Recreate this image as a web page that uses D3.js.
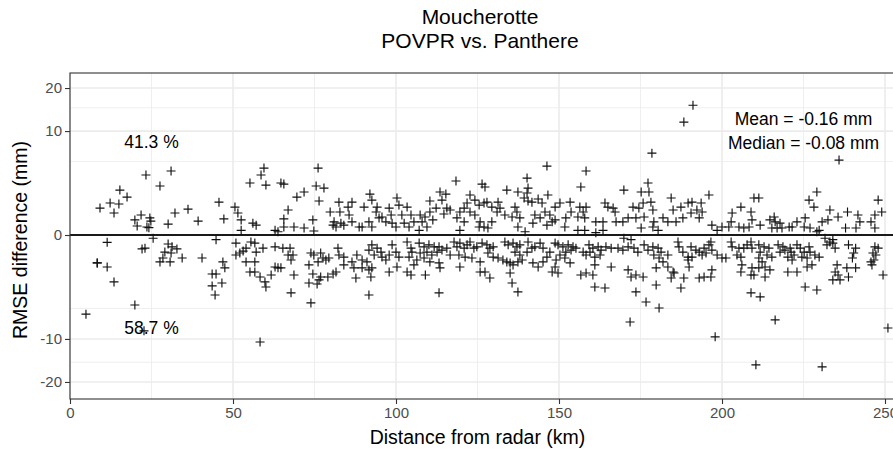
<!DOCTYPE html>
<html>
<head>
<meta charset="utf-8">
<script src="https://cdn.jsdelivr.net/npm/d3@7/dist/d3.min.js"></script>
<style>
  html, body { margin: 0; padding: 0; background: #fff; }
  svg { display: block; font-family: "Liberation Sans", Arial, sans-serif; }
</style>
</head>
<body>
<svg id="chart" width="893" height="450"></svg>
<script>
// Station / comparison titles
const titleLines = ["Moucherotte", "POVPR vs. Panthere"];
const xTitle = "Distance from radar (km)";
const yTitle = "RMSE difference (mm)";

// Axis breaks
const xMajor = [0, 50, 100, 150, 200, 250];
const xMinor = [25, 75, 125, 175, 225];
const yMajor = [20, 10, 0, -10, -20];
const yMinor = [15, 5, -5, -15];

// Annotations
const shareAbove = "41.3 %";
const shareBelow = "58.7 %";
const statsLines = ["Mean = -0.16 mm", "Median = -0.08 mm"];

// Gauge distance from radar (km)
const distanceKm = [
4.9,9.2,11.4,8.3,8.4,11.4,13.5,12.3,13.5,15.3,15.0,17.5,19.9,19.9,20.6,21.8,22.1,23.3,23.6,22.7,
31.0,27.6,24.5,24.8,24.2,25.5,32.2,36.2,39.3,30.1,30.1,31.3,32.8,29.1,31.0,28.5,30.7,27.6,34.4,40.5,43.6,43.6,23.0,
59.5,58.6,55.2,60.1,64.7,45.7,47.2,50.6,51.5,52.5,52.5,56.1,57.1,62.9,63.8,44.8,50.9,55.5,56.7,54.0,53.1,50.9,52.1,54.0,56.7,59.2,57.1,55.2,56.7,58.3,59.8,60.1,61.7,62.9,63.8,46.9,47.5,44.8,46.6,44.5,58.3,62.9,
76.1,65.6,75.5,77.9,69.6,71.8,76.4,66.9,65.6,65.6,68.7,71.8,74.5,74.8,82.5,79.8,82.8,85.3,80.7,81.6,83.1,84.0,81.0,65.3,66.9,68.4,67.5,67.8,64.7,68.7,67.8,73.9,74.8,76.9,77.6,76.1,78.5,73.3,74.5,73.3,76.4,75.8,76.9,79.1,80.7,81.6,79.4,82.2,82.5,84.0,84.0,73.9,
92.0,92.6,90.2,94.2,93.9,86.5,85.6,86.5,100.3,100.9,103.4,97.9,98.5,101.8,104.6,105.5,95.7,96.9,94.8,91.7,92.6,89.6,88.7,98.8,100.0,104.0,102.5,92.6,94.2,95.4,91.7,93.3,95.7,96.9,98.8,100.0,97.9,100.9,103.4,104.6,104.9,104.0,105.5,88.0,89.6,91.1,87.1,89.6,91.7,92.6,87.7,92.3,91.7,97.9,100.3,103.4,104.6,86.5,
118.4,126.4,113.5,115.3,110.4,114.1,112.3,115.6,114.7,116.6,107.4,108.9,110.4,111.3,108.0,109.5,107.1,122.7,124.2,121.8,120.9,125.5,127.0,119.6,122.7,118.7,120.9,124.2,125.8,125.5,127.0,119.6,107.1,108.6,110.1,111.7,113.2,109.5,111.0,112.6,114.1,115.6,116.6,108.6,110.4,113.2,113.5,109.0,113.2,117.8,118.7,119.6,120.9,121.8,122.7,123.9,124.8,126.4,119.3,121.2,123.3,119.6,125.8,125.8,106.4,107.4,
146.3,140.2,140.5,134.0,137.4,140.2,139.3,140.5,141.7,143.6,146.6,144.8,127.3,127.9,129.4,131.3,131.9,131.0,133.4,136.5,137.1,135.6,129.4,128.2,138.0,137.4,139.6,142.6,144.2,145.7,147.2,147.9,142.0,146.3,127.9,128.8,129.8,128.2,129.8,131.3,132.8,134.0,135.0,135.9,127.3,128.8,135.0,135.6,137.4,134.4,135.9,137.1,138.0,136.5,138.0,138.7,137.4,140.5,141.7,142.6,144.2,145.1,142.0,143.6,145.1,146.3,147.2,147.9,140.2,133.4,
158.3,156.7,153.4,150.3,148.8,153.7,156.4,157.4,158.3,155.8,157.9,164.1,165.0,166.6,167.2,167.5,161.3,163.5,152.1,148.8,151.8,155.8,157.9,163.5,161.3,148.8,149.7,151.2,152.8,154.3,155.2,152.1,153.7,150.3,149.1,153.4,149.7,157.4,158.3,159.5,160.4,162.0,162.9,164.4,166.0,168.1,161.0,162.6,161.0,166.0,156.7,158.3,160.4,161.0,164.1,159.2,148.8,151.8,
188.3,178.5,177.3,177.6,175.2,169.9,175.8,178.2,178.8,174.5,172.7,171.2,173.6,176.1,169.6,179.1,184.4,187.4,185.0,181.9,183.4,185.9,188.0,189.6,175.2,178.8,180.4,169.9,172.1,171.2,173.0,169.6,174.2,176.1,177.3,178.8,180.4,181.3,179.1,180.7,181.9,183.4,186.5,186.8,188.0,189.6,189.6,171.2,172.1,173.6,175.8,179.8,183.4,185.0,184.4,179.8,173.6,176.7,180.7,171.8,188.3,187.4,185.3,
191.1,196.0,190.8,193.6,192.3,193.9,193.0,190.5,209.8,205.8,208.9,203.1,202.8,200.0,198.5,202.1,196.9,205.2,206.7,208.3,209.2,190.5,192.0,193.0,194.5,193.9,190.8,195.1,196.0,196.6,196.9,198.5,200.0,201.2,189.9,193.0,194.5,196.6,196.9,202.8,203.1,205.2,206.7,204.6,205.8,207.7,208.9,209.2,205.8,206.1,208.9,209.8,208.9,197.9,210.4,209.2,
229.1,226.7,228.2,211.3,216.0,214.7,216.3,211.7,215.3,216.9,218.4,220.6,221.5,223.0,225.5,225.2,227.0,229.8,230.7,229.1,217.8,211.3,212.9,214.4,211.7,213.8,215.3,211.3,212.3,213.2,217.2,218.7,219.3,220.9,221.2,217.8,220.2,222.1,223.0,224.0,225.2,226.7,227.0,228.5,229.8,224.5,226.1,227.6,221.5,211.3,214.7,213.2,220.2,223.0,226.1,225.5,229.1,211.7,216.3,230.7,
235.9,247.9,249.0,246.9,233.1,235.6,238.5,237.9,232.5,241.1,242.3,241.7,245.7,246.9,231.6,233.1,234.0,232.2,234.7,234.0,238.8,241.0,240.4,240.0,246.9,247.9,246.3,247.2,246.6,245.7,246.0,249.4,235.3,234.7,235.6,234.0,236.2,238.3,238.8,241.0,250.9
];

// POVPR minus Panthere RMSE (mm), same order as distanceKm
const rmseDiff = [
-5.8,0.67,-0.05,-0.72,-0.72,-0.95,-2.04,0.95,0.45,1.87,0.89,1.33,-4.53,0.21,0.075,0.37,-0.18,3.33,0.06,-8.5,
3.79,2.22,0.27,0.18,0.05,-0.01,0.45,0.62,0.18,0.11,-0.075,-0.13,-0.18,-0.27,-0.30,-0.49,-0.67,-0.67,-0.49,-0.49,-1.41,-2.40,-0.16,
4.15,3.33,2.5,2.31,2.5,1.0,0.24,0.72,0.45,0.21,0.02,0.13,0.09,0.02,0.01,-0.02,-0.06,-0.045,-0.06,-0.16,-0.24,-0.37,-0.30,-0.67,-0.67,-0.16,-0.27,-1.27,-1.27,-1.63,-2.04,-2.5,-1.48,-0.95,-1.0,-0.67,-1.0,-1.41,-2.13,-3.33,-10.6,-0.13,
4.15,2.4,2.22,2.04,1.33,1.71,1.07,0.58,0.24,0.06,0.06,0.045,0.21,0.015,1.0,0.49,0.49,0.72,0.09,0.06,0.13,0.09,0.16,-0.16,-0.37,-0.37,-0.16,-0.58,-1.0,-1.48,-3.1,-0.30,-0.37,-0.30,-0.49,-0.67,-0.58,-0.83,-1.41,-2.13,-1.87,-2.22,-1.63,-1.63,-1.41,-1.27,-0.49,-0.16,-0.37,-0.45,-0.83,-4.27,
1.55,1.13,0.72,0.72,0.49,1.0,0.37,0.16,1.27,0.83,0.72,0.67,0.37,0.37,0.37,0.16,0.30,0.16,0.27,0.16,0.06,0.06,0.06,0.13,0.06,0.06,0.13,-0.09,-0.16,-0.27,-0.21,-0.37,-0.45,-0.58,-0.09,-0.27,-0.37,-0.45,-0.045,-0.16,-0.27,-0.45,-0.83,-0.37,-0.58,-0.67,-1.0,-1.0,-1.13,-1.0,-1.71,-1.63,-3.33,-1.27,-0.95,-1.27,-1.48,-0.67,
2.7,2.4,1.71,1.55,1.07,1.13,0.67,0.67,0.41,0.58,0.37,0.30,0.49,0.21,0.16,0.06,0.02,1.48,1.13,0.95,0.67,0.83,0.95,0.49,0.49,0.27,0.16,0.37,0.16,0.06,0.06,0.02,-0.06,-0.13,-0.09,-0.13,-0.13,-0.27,-0.37,-0.27,-0.21,-0.16,-0.37,-0.49,-0.67,-0.72,-1.0,-1.48,-3.1,-0.045,-0.13,-0.06,-0.16,-0.09,-0.045,-0.16,-0.13,-0.06,-0.37,-0.45,-0.49,-0.95,-0.67,-1.27,-0.58,-0.30,
4.4,3.0,2.04,1.87,1.71,1.63,1.27,1.07,1.0,1.2,1.48,0.95,2.13,1.0,0.72,1.0,0.67,0.49,0.37,0.72,0.49,0.30,0.16,0.045,0.27,0.06,0.01,0.37,0.27,0.49,0.37,0.16,0.13,0.09,-0.09,-0.16,-0.13,-0.30,-0.45,-0.49,-0.58,-0.67,-0.72,-0.83,-1.27,-1.71,-1.34,-2.13,-3.0,-0.09,-0.06,-0.13,-0.09,-0.27,-0.37,-0.58,-0.67,-0.045,-0.16,-0.13,-0.06,-0.16,-0.72,-0.95,-0.67,-0.45,-0.27,-1.27,-0.27,-0.045,
3.79,2.13,1.0,0.95,0.72,0.49,0.72,0.49,0.72,0.30,0.27,0.95,0.72,0.67,0.49,0.16,0.16,0.16,0.27,0.21,0.06,0.02,0.02,0.02,0.005,-0.06,-0.09,-0.13,-0.09,-0.13,-0.16,-0.27,-0.21,-0.37,-0.58,-0.72,-1.34,-0.27,-0.37,-0.27,-0.16,-0.13,-0.21,-0.13,-0.16,-0.16,-0.45,-0.37,-0.83,-0.95,-1.48,-1.34,-1.48,-2.5,-2.6,-0.09,-0.95,-0.49,
11.8,6.2,2.5,1.71,1.71,1.87,0.95,1.0,0.58,0.67,0.72,0.27,0.27,0.30,0.16,0.16,1.27,0.72,0.58,0.27,0.16,0.16,0.27,0.95,0.045,0.06,0.02,-0.01,-0.02,-0.13,-0.16,-0.21,-0.27,-0.09,-0.21,-0.13,-0.16,-0.27,-0.37,-0.49,-0.67,-0.37,-0.045,-0.13,-0.27,-0.45,-0.58,-1.13,-1.63,-1.48,-1.63,-1.0,-0.95,-1.27,-1.71,-2.31,-3.0,-4.15,-4.93,-7.0,-1.71,-2.6,-1.34,
15.6,1.48,1.0,0.95,0.58,0.49,0.27,0.45,1.27,0.72,0.49,0.45,0.16,0.06,0.02,0.06,0.09,0.06,0.045,0.06,0.21,-0.13,-0.21,-0.27,-0.16,-0.37,-0.45,-0.30,-0.09,-0.045,-0.21,-0.37,-0.49,-0.49,-0.95,-1.71,-1.63,-1.63,-1.13,-0.045,-0.13,-0.16,-0.16,-0.37,-0.45,-0.09,-0.045,-0.16,-1.27,-0.83,-1.48,-1.48,-3.1,-9.6,-15.6,-1.0,
1.71,1.13,0.72,1.27,0.30,0.21,0.16,0.09,0.045,0.045,0.045,0.06,0.06,0.16,0.27,0.06,0.045,0.02,0.16,0.01,0.13,-0.09,-0.13,-0.16,-0.27,-0.37,-0.45,-0.49,-0.67,-0.95,-0.09,-0.13,-0.21,-0.16,-0.27,-0.27,-0.45,-0.37,-0.09,-0.16,-0.27,-0.13,-0.27,-0.37,-0.45,-0.45,-0.49,-0.83,-0.58,-1.0,-1.13,-1.63,-1.27,-1.27,-0.95,-2.5,-2.8,-3.55,-6.68,-16.1,
5.2,1.13,0.49,0.37,0.58,0.30,0.49,0.045,0.21,0.045,0.16,0.37,0.16,0.045,-0.01,-0.045,-0.06,-0.09,-0.16,-0.02,-0.09,-0.16,-0.30,-0.49,-0.13,-0.16,-0.30,-0.37,-0.58,-0.67,-0.83,-1.48,-0.83,-1.27,-1.48,-1.87,-1.87,-1.0,-1.63,-1.0,-8.0
];

const panel = { left: 70, top: 73, bottom: 399, right: 905 };

const svg = d3.select("#chart");

// x: linear distance, no expansion at the origin
const x = d3.scaleLinear().domain([0, 250]).range([panel.left, 885]);
// y: signed square-root transform (d3's pow scale is odd-symmetric)
const y = d3.scaleSqrt().domain([-24.9, 24.3]).range([panel.bottom, panel.top]);

const g = svg.append("g");

// panel background
g.append("rect")
  .attr("x", panel.left).attr("y", panel.top)
  .attr("width", panel.right - panel.left).attr("height", panel.bottom - panel.top)
  .attr("fill", "#fff");

// minor grid
g.append("g").selectAll("line").data(yMinor).join("line")
  .attr("x1", panel.left).attr("x2", panel.right)
  .attr("y1", d => y(d)).attr("y2", d => y(d))
  .attr("stroke", "#ebebeb").attr("stroke-width", 0.8);
g.append("g").selectAll("line").data(xMinor).join("line")
  .attr("x1", d => x(d)).attr("x2", d => x(d))
  .attr("y1", panel.top).attr("y2", panel.bottom)
  .attr("stroke", "#ebebeb").attr("stroke-width", 0.8);

// major grid
g.append("g").selectAll("line").data(yMajor).join("line")
  .attr("x1", panel.left).attr("x2", panel.right)
  .attr("y1", d => y(d)).attr("y2", d => y(d))
  .attr("stroke", "#ebebeb").attr("stroke-width", 1.6);
g.append("g").selectAll("line").data(xMajor).join("line")
  .attr("x1", d => x(d)).attr("x2", d => x(d))
  .attr("y1", panel.top).attr("y2", panel.bottom)
  .attr("stroke", "#ebebeb").attr("stroke-width", 1.6);

// zero reference line
g.append("line")
  .attr("x1", panel.left).attr("x2", panel.right)
  .attr("y1", y(0)).attr("y2", y(0))
  .attr("stroke", "#1a1a1a").attr("stroke-width", 1.8);

// points drawn as "+" markers
const plus = "M-4.5,0H4.5M0,-4.5V4.5";
g.append("g").selectAll("path").data(d3.range(distanceKm.length)).join("path")
  .attr("transform", i => `translate(${x(distanceKm[i])},${y(rmseDiff[i])})`)
  .attr("d", plus)
  .attr("fill", "none")
  .attr("stroke", "#111")
  .attr("stroke-width", 1.15);

// annotations
const annot = g.append("g").attr("font-size", 17.5).attr("fill", "#000").attr("text-anchor", "middle");
annot.append("text").attr("x", x(25)).attr("y", y(8)).attr("dy", "0.35em").text(shareAbove);
annot.append("text").attr("x", x(25)).attr("y", y(-8)).attr("dy", "0.35em").text(shareBelow);
const stats = annot.append("text").attr("x", x(225)).attr("y", y(10));
stats.append("tspan").attr("x", x(225)).attr("dy", "-0.35em").text(statsLines[0]);
stats.append("tspan").attr("x", x(225)).attr("dy", "1.35em").text(statsLines[1]);

// panel border
g.append("rect")
  .attr("x", panel.left).attr("y", panel.top)
  .attr("width", panel.right - panel.left).attr("height", panel.bottom - panel.top)
  .attr("fill", "none").attr("stroke", "#333").attr("stroke-width", 1.1);

// axes
const fmt = d => String(d);
const xAxis = d3.axisBottom(x).tickValues(xMajor).tickSize(5).tickPadding(3).tickFormat(fmt);
const yAxis = d3.axisLeft(y).tickValues(yMajor).tickSize(5).tickPadding(3).tickFormat(fmt);

const gx = svg.append("g").attr("transform", `translate(0,${panel.bottom})`).call(xAxis);
const gy = svg.append("g").attr("transform", `translate(${panel.left},0)`).call(yAxis);
[gx, gy].forEach(a => {
  a.select(".domain").remove();
  a.selectAll(".tick line").attr("stroke", "#333").attr("stroke-width", 1.1);
  a.selectAll(".tick text").attr("fill", "#4d4d4d").attr("font-size", 15)
    .attr("font-family", "Liberation Sans, Arial, sans-serif");
});

// axis titles
svg.append("text")
  .attr("x", (panel.left + 885) / 2).attr("y", 444)
  .attr("text-anchor", "middle").attr("font-size", 19.5).attr("fill", "#000")
  .text(xTitle);
svg.append("text")
  .attr("transform", `translate(27,${(panel.top + panel.bottom) / 2 + 4}) rotate(-90)`)
  .attr("text-anchor", "middle").attr("font-size", 19.5).attr("fill", "#000")
  .text(yTitle);

// title
svg.append("g").attr("text-anchor", "middle").attr("font-size", 21).attr("fill", "#000")
  .selectAll("text").data(titleLines).join("text")
  .attr("x", 480).attr("y", (d, i) => 24 + i * 24)
  .text(d => d);
</script>
</body>
</html>
